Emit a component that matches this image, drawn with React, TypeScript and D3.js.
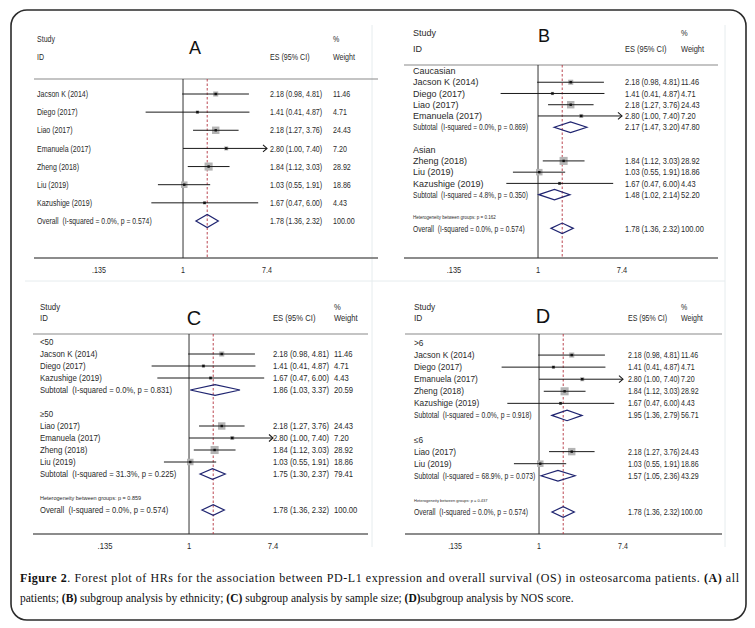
import React from "react";
import * as d3 from "d3";

// study level hazard ratios
const studyNames = [
  "Jacson K (2014)",
  "Diego (2017)",
  "Liao (2017)",
  "Emanuela (2017)",
  "Zheng (2018)",
  "Liu (2019)",
  "Kazushige (2019)",
];
const hrValues = [2.18, 1.41, 2.18, 2.8, 1.84, 1.03, 1.67];
const ciLow = [0.98, 0.41, 1.27, 1.0, 1.12, 0.55, 0.47];
const ciHigh = [4.81, 4.87, 3.76, 7.4, 3.03, 1.91, 6.0];
const weights = [11.46, 4.71, 24.43, 7.2, 28.92, 18.86, 4.43];

const tickValues = [0.135, 1, 7.4];
const tickLabels = [".135", "1", "7.4"];

// pooled estimates
const overall = { es: 1.78, lo: 1.36, hi: 2.32, w: 100.0, i2: "0.0%", p: "0.574" };

const ethnicGroups = [
  { name: "Caucasian", studies: [0, 1, 2, 3], es: 2.17, lo: 1.47, hi: 3.2, w: 47.8, i2: "0.0%", p: "0.869" },
  { name: "Asian", studies: [4, 5, 6], es: 1.48, lo: 1.02, hi: 2.14, w: 52.2, i2: "4.8%", p: "0.350" },
];
const ethnicHet = "0.162";

const sizeGroups = [
  { name: "<50", studies: [0, 1, 6], es: 1.86, lo: 1.03, hi: 3.37, w: 20.59, i2: "0.0%", p: "0.831" },
  { name: "≥50", studies: [2, 3, 4, 5], es: 1.75, lo: 1.3, hi: 2.37, w: 79.41, i2: "31.3%", p: "0.225" },
];
const sizeHet = "0.859";

const nosGroups = [
  { name: ">6", studies: [0, 1, 3, 4, 6], es: 1.95, lo: 1.36, hi: 2.79, w: 56.71, i2: "0.0%", p: "0.918" },
  { name: "≤6", studies: [2, 5], es: 1.57, lo: 1.05, hi: 2.36, w: 43.29, i2: "68.9%", p: "0.073" },
];
const nosHet = "0.437";

const f2 = d3.format(".2f");
const ciText = (es: number, lo: number, hi: number) => `${f2(es)} (${f2(lo)}, ${f2(hi)})`;

type Row =
  | { kind: "group"; text: string }
  | { kind: "study"; i: number }
  | { kind: "pooled"; text: string; es: number; lo: number; hi: number; w: number }
  | { kind: "het"; text: string }
  | { kind: "blank" };

function buildRows(groups: typeof ethnicGroups | null, het: string | null): Row[] {
  const rows: Row[] = [];
  if (!groups) {
    studyNames.forEach((_, i) => rows.push({ kind: "study", i }));
  } else {
    groups.forEach((g) => {
      rows.push({ kind: "group", text: g.name });
      g.studies.forEach((i) => rows.push({ kind: "study", i }));
      rows.push({
        kind: "pooled",
        text: `Subtotal  (I-squared = ${g.i2}, p = ${g.p})`,
        es: g.es, lo: g.lo, hi: g.hi, w: g.w,
      });
      rows.push({ kind: "blank" });
    });
    rows.push({ kind: "het", text: `Heterogeneity between groups: p = ${het}` });
  }
  rows.push({
    kind: "pooled",
    text: `Overall  (I-squared = ${overall.i2}, p = ${overall.p})`,
    es: overall.es, lo: overall.lo, hi: overall.hi, w: overall.w,
  });
  return rows;
}

interface PanelCfg {
  letter: string;
  letterX: number;
  letterY: number;
  letterSize: number;
  labelX: number;
  esX: number;
  wX: number;
  head1: number;
  head2: number;
  lineY: number;
  lineX0: number;
  lineX1: number;
  row0: number;
  step: number;
  axisY: number;
  nullX: number;
  font: number;
  sx: number; // study names
  poolSx: number; // subtotal / overall labels
  esSx: number; // ES column
  hetSize: number;
  diamondH: number;
  rows: Row[];
}

const panels: PanelCfg[] = [
  {
    letter: "A", letterX: 195, letterY: 54, letterSize: 18,
    labelX: 37, esX: 270, wX: 333, head1: 42, head2: 60,
    lineY: 79, lineX0: 34, lineX1: 378, row0: 94, step: 18.14,
    axisY: 258, nullX: 183, font: 9, sx: 0.78, poolSx: 0.76, esSx: 0.79, hetSize: 4.5, diamondH: 6.5,
    rows: buildRows(null, null),
  },
  {
    letter: "B", letterX: 544, letterY: 42, letterSize: 18,
    labelX: 413, esX: 625, wX: 681, head1: 36, head2: 52,
    lineY: 65, lineX0: 404, lineX1: 718, row0: 71, step: 11.24,
    axisY: 258, nullX: 538, font: 9, sx: 1, poolSx: 0.74, esSx: 0.83, hetSize: 4.5, diamondH: 5.3,
    rows: buildRows(ethnicGroups, ethnicHet),
  },
  {
    letter: "C", letterX: 194, letterY: 325, letterSize: 20,
    labelX: 40, esX: 273, wX: 334, head1: 310, head2: 321,
    lineY: 334, lineX0: 33, lineX1: 368, row0: 342, step: 12,
    axisY: 534, nullX: 189, font: 8.5, sx: 0.93, poolSx: 0.9, esSx: 0.9, hetSize: 5.5, diamondH: 5.3,
    rows: buildRows(sizeGroups, sizeHet),
  },
  {
    letter: "D", letterX: 543, letterY: 323, letterSize: 20,
    labelX: 414, esX: 628, wX: 681, head1: 310, head2: 321,
    lineY: 334, lineX0: 405, lineX1: 722, row0: 343, step: 12.07,
    axisY: 534, nullX: 539, font: 8.5, sx: 0.98, poolSx: 0.8, esSx: 0.83, hetSize: 4, diamondH: 5.3,
    rows: buildRows(nosGroups, nosHet),
  },
];

const FONT = "'Liberation Sans', Arial, sans-serif";
const TEXT = "#2a2a2a";

function T({ x, y, sx, size, children, anchor = "start", fill = TEXT }: any) {
  return (
    <text
      transform={`translate(${x},${y}) scale(${sx},1)`}
      fontSize={size}
      fontFamily={FONT}
      fill={fill}
      textAnchor={anchor}
      style={{ whiteSpace: "pre" }}
    >
      {children}
    </text>
  );
}

function Panel({ cfg }: { cfg: PanelCfg }) {
  const x = d3
    .scaleLog()
    .domain([0.135, 7.4])
    .range([cfg.nullX - 84, cfg.nullX + 84]);
  const yRow = (k: number) => cfg.row0 + k * cfg.step;
  const base = cfg.font * 0.35;
  const boxK = 1.5;
  const fs = cfg.font;

  return (
    <g>
      {/* header */}
      <T x={cfg.labelX} y={cfg.head1} sx={cfg.sx} size={fs}>Study</T>
      <T x={cfg.labelX} y={cfg.head2} sx={cfg.sx} size={fs}>ID</T>
      <T x={cfg.wX} y={cfg.head1} sx={cfg.esSx} size={fs}>%</T>
      <T x={cfg.esX} y={cfg.head2} sx={cfg.esSx} size={fs}>ES (95% CI)</T>
      <T x={cfg.wX} y={cfg.head2} sx={cfg.esSx} size={fs}>Weight</T>
      <text
        x={cfg.letterX}
        y={cfg.letterY}
        fontSize={cfg.letterSize}
        fontFamily={FONT}
        textAnchor="middle"
        fill="#111"
      >
        {cfg.letter}
      </text>

      <line x1={cfg.lineX0} x2={cfg.lineX1} y1={cfg.lineY} y2={cfg.lineY} stroke="#8a8a8a" strokeWidth={1.2} />
      <line x1={cfg.lineX0} x2={cfg.lineX1} y1={cfg.axisY} y2={cfg.axisY} stroke="#666" strokeWidth={1.4} />

      {/* null line and overall estimate */}
      <line x1={x(1)} x2={x(1)} y1={cfg.lineY} y2={cfg.axisY} stroke="#333" strokeWidth={1} />
      <line
        x1={x(overall.es)}
        x2={x(overall.es)}
        y1={cfg.lineY}
        y2={cfg.axisY}
        stroke="#b2323c"
        strokeWidth={0.9}
        strokeDasharray="2.5,2"
      />

      {tickValues.map((t, k) => (
        <T key={k} x={x(t)} y={cfg.axisY + 15} sx={cfg.esSx} size={fs} anchor="middle">
          {tickLabels[k]}
        </T>
      ))}

      {cfg.rows.map((r, k) => {
        const y = yRow(k);
        if (r.kind === "blank") return null;
        if (r.kind === "group")
          return <T key={k} x={cfg.labelX} y={y + base} sx={cfg.sx} size={fs}>{r.text}</T>;
        if (r.kind === "het")
          return <T key={k} x={cfg.labelX} y={y + 2} sx={1} size={cfg.hetSize}>{r.text}</T>;
        if (r.kind === "pooled") {
          const h = cfg.diamondH;
          const pts = [
            [x(r.lo), y], [x(r.es), y - h], [x(r.hi), y], [x(r.es), y + h],
          ].map((p) => p.join(",")).join(" ");
          return (
            <g key={k}>
              <T x={cfg.labelX} y={y + base} sx={cfg.poolSx} size={fs}>{r.text}</T>
              <polygon points={pts} fill="none" stroke="#1f2470" strokeWidth={1.2} />
              <T x={cfg.esX} y={y + base} sx={cfg.esSx} size={fs}>{ciText(r.es, r.lo, r.hi)}</T>
              <T x={cfg.wX} y={y + base} sx={cfg.esSx} size={fs}>{f2(r.w)}</T>
            </g>
          );
        }
        const i = r.i;
        const side = boxK * Math.sqrt(weights[i]);
        const hiX = x(Math.min(ciHigh[i], 7.4));
        const clipped = ciHigh[i] >= 7.4;
        return (
          <g key={k}>
            <T x={cfg.labelX} y={y + base} sx={cfg.sx} size={fs}>{studyNames[i]}</T>
            <rect
              x={x(hrValues[i]) - side / 2}
              y={y - side / 2}
              width={side}
              height={side}
              fill="#b4b4b4"
            />
            <line x1={x(ciLow[i])} x2={hiX} y1={y} y2={y} stroke="#1a1a1a" strokeWidth={1} />
            {clipped && (
              <polyline
                points={`${hiX - 4},${y - 3.5} ${hiX},${y} ${hiX - 4},${y + 3.5}`}
                fill="none"
                stroke="#1a1a1a"
                strokeWidth={1.1}
              />
            )}
            <rect x={x(hrValues[i]) - 1.2} y={y - 1.2} width={2.4} height={2.4} fill="#111" />
            <T x={cfg.esX} y={y + base} sx={cfg.esSx} size={fs}>
              {ciText(hrValues[i], ciLow[i], ciHigh[i])}
            </T>
            <T x={cfg.wX} y={y + base} sx={cfg.esSx} size={fs}>{f2(weights[i])}</T>
          </g>
        );
      })}
    </g>
  );
}

export default function App() {
  const serif = "'Liberation Serif', 'Times New Roman', serif";
  return (
    <div style={{ position: "absolute", left: 0, top: 0 }}>
      <svg width={755} height={628} style={{ display: "block", background: "#fff" }}>
        <rect x={0} y={0} width={755} height={628} fill="#fff" />
        {/* faint panel edges */}
        <g stroke="#e6ecee" strokeWidth={1}>
          <line x1={372} x2={372} y1={25} y2={547} />
          <line x1={725} x2={725} y1={25} y2={547} />
          <line x1={25} x2={725} y1={281} y2={281} />
        </g>
        {panels.map((p) => (
          <Panel key={p.letter} cfg={p} />
        ))}
        <text x={20} y={582} fontFamily={serif} fontSize={12} fill="#111" textLength={719} lengthAdjust="spacing">
          <tspan fontWeight="bold">Figure 2</tspan>. Forest plot of HRs for the association between PD-L1
          expression and overall survival (OS) in osteosarcoma patients. <tspan fontWeight="bold">(A)</tspan> all
        </text>
        <text x={20} y={602} fontFamily={serif} fontSize={11.5} fill="#111">
          patients; <tspan fontWeight="bold">(B)</tspan> subgroup analysis by ethnicity;{" "}
          <tspan fontWeight="bold">(C)</tspan> subgroup analysis by sample size;{" "}
          <tspan fontWeight="bold">(D)</tspan>subgroup analysis by NOS score.
        </text>
        <rect x={11} y={10} width={735} height={610} rx={16} ry={16} fill="none" stroke="#2b2b2b" strokeWidth={1.6} />
      </svg>
    </div>
  );
}
